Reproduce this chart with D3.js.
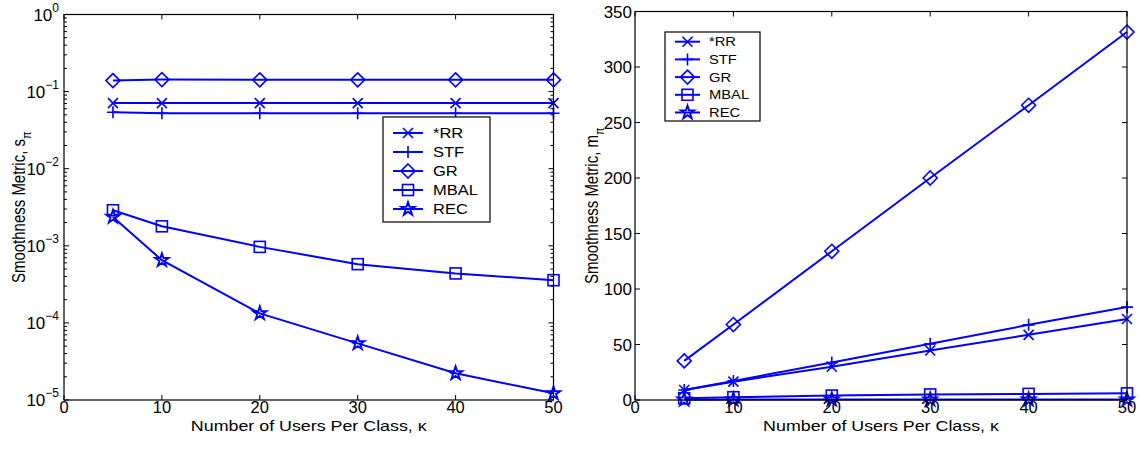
<!DOCTYPE html>
<html><head><meta charset="utf-8">
<script src="https://cdn.jsdelivr.net/npm/d3@7"></script>
<style>body{margin:0;background:#fff}svg{display:block;font-family:"Liberation Sans",Arial,sans-serif}</style>
</head><body><svg id="c" width="1142" height="450"></svg>
<script>
const users = [5, 10, 20, 30, 40, 50];
const seriesNames = ["*RR", "STF", "GR", "MBAL", "REC"];
const markers = ["x", "plus", "diamond", "square", "star"];
// Left panel: s_pi (log scale)
const sRR   = [0.0710, 0.0710, 0.0710, 0.0710, 0.0710, 0.0710];
const sSTF  = [0.0540, 0.0525, 0.0525, 0.0525, 0.0525, 0.0525];
const sGR   = [0.139, 0.143, 0.142, 0.142, 0.142, 0.142];
const sMBAL = [0.00289, 0.00179, 0.000968, 0.000578, 0.000438, 0.000358];
const sREC  = [0.00237, 0.00065, 0.000133, 0.0000542, 0.0000222, 0.0000122];
// Right panel: m_pi (linear)
const mRR   = [9, 16.5, 30, 44.6, 58.7, 73];
const mSTF  = [9, 17.2, 33.7, 50.6, 67.7, 83.7];
const mGR   = [35.2, 68, 134, 200, 265.5, 331.5];
const mMBAL = [1.5, 2.5, 4, 5, 5.5, 6];
const mREC  = [0.3, 0.4, 0.4, 0.4, 0.4, 0.4];
const xTicks = [0, 10, 20, 30, 40, 50];
const logTicks = [-5, -4, -3, -2, -1, 0];
const linTicks = [0, 50, 100, 150, 200, 250, 300, 350];

const svg = d3.select("#c");
const blue = "#0000ff";

function stext(g, x, y, str, fs, sx, anchor) {
  return g.append("text").attr("transform", `translate(${x},${y}) scale(${sx},1)`)
    .attr("text-anchor", anchor || "start").attr("font-size", fs).text(str);
}

function marker(g, type, x, y) {
  const s = g.append("g").attr("transform", `translate(${x},${y})`);
  let el;
  if (type === "x") el = s.append("path").attr("d", "M-5,-5L5,5M-5,5L5,-5");
  else if (type === "plus") el = s.append("path").attr("d", "M-6,0L6,0M0,-6L0,6");
  else if (type === "diamond") el = s.append("path").attr("d", "M0,-7L7,0L0,7L-7,0Z");
  else if (type === "square") el = s.append("rect").attr("x", -5.5).attr("y", -5.5).attr("width", 11).attr("height", 11);
  else if (type === "star") el = s.append("path").attr("d", d3.symbol(d3.symbolStar, 55)());
  el.attr("stroke", blue).attr("stroke-width", type === "star" ? 1.9 : 1.6).attr("fill", "none");
}

function panel(cfg) {
  const {x0, x1, y0, y1, yScale, data, yTicksFn, legend, ylabel, sub} = cfg;
  const x = d3.scaleLinear().domain([0, 50]).range([x0, x1]);
  const g = svg.append("g");
  data.forEach((vals, i) => {
    const line = d3.line().x((d, j) => x(users[j])).y(d => yScale(d));
    g.append("path").attr("d", line(vals)).attr("fill", "none").attr("stroke", blue).attr("stroke-width", 2);
    vals.forEach((v, j) => marker(g, markers[i], x(users[j]), yScale(v)));
  });
  g.append("rect").attr("x", x0).attr("y", y1).attr("width", x1 - x0).attr("height", y0 - y1)
    .attr("fill", "none").attr("stroke", "#000").attr("stroke-width", 1.2);
  xTicks.forEach(t => {
    const px = x(t);
    g.append("line").attr("x1", px).attr("x2", px).attr("y1", y0).attr("y2", y0 - 5).attr("stroke", "#000");
    g.append("line").attr("x1", px).attr("x2", px).attr("y1", y1).attr("y2", y1 + 5).attr("stroke", "#000");
    g.append("text").attr("x", px).attr("y", 413).attr("text-anchor", "middle").attr("font-size", 16.5).text(t);
  });
  yTicksFn(g, x0, x1);
  stext(g, (x0 + x1) / 2, 430.5, "Number of Users Per Class, κ", 14.5, 1.23, "middle");
  const yl = g.append("text").attr("transform", `translate(${ylabel.x},${(y0 + y1) / 2}) rotate(-90) scale(1,1.18)`)
    .attr("text-anchor", "middle").attr("font-size", 15);
  yl.append("tspan").text("Smoothness Metric, " + sub);
  yl.append("tspan").attr("dy", 5).attr("font-size", 11).text("π");
  const L = legend;
  g.append("rect").attr("x", L.x).attr("y", L.y).attr("width", L.w).attr("height", L.h)
    .attr("fill", "#fff").attr("stroke", "#000").attr("stroke-width", 1.2);
  seriesNames.forEach((n, i) => {
    const yy = L.y + L.first + i * L.step;
    g.append("line").attr("x1", L.lx0).attr("x2", L.lx1).attr("y1", yy).attr("y2", yy).attr("stroke", blue).attr("stroke-width", 2);
    marker(g, markers[i], (L.lx0 + L.lx1) / 2, yy);
    stext(g, L.tx, yy + L.fs * 0.36, n, L.fs, 1.18);
  });
}

const yLog = d3.scaleLog().domain([1e-5, 1]).range([400, 14.5]);
panel({
  x0: 64, x1: 553.5, y0: 400, y1: 14.5, yScale: yLog,
  data: [sRR, sSTF, sGR, sMBAL, sREC],
  sub: "s",
  ylabel: {x: 25},
  legend: {x: 383, y: 117, w: 107, h: 105, first: 16, step: 19, lx0: 393, lx1: 423, tx: 433, fs: 14},
  yTicksFn: (g, x0, x1) => {
    logTicks.forEach(e => {
      const py = yLog(Math.pow(10, e));
      g.append("line").attr("x1", x0).attr("x2", x0 + 5).attr("y1", py).attr("y2", py).attr("stroke", "#000");
      g.append("line").attr("x1", x1).attr("x2", x1 - 5).attr("y1", py).attr("y2", py).attr("stroke", "#000");
      const t = g.append("text").attr("x", 59).attr("y", py + 6).attr("text-anchor", "end").attr("font-size", 17);
      t.append("tspan").text("10");
      t.append("tspan").attr("dy", -9).attr("font-size", 12).text(e === 0 ? "0" : "−" + (-e));
      if (e < 0) {
        for (let m = 2; m <= 9; m++) {
          const my = yLog(m * Math.pow(10, e));
          g.append("line").attr("x1", x0).attr("x2", x0 + 3).attr("y1", my).attr("y2", my).attr("stroke", "#000");
          g.append("line").attr("x1", x1).attr("x2", x1 - 3).attr("y1", my).attr("y2", my).attr("stroke", "#000");
        }
      }
    });
  }
});

const yLin = d3.scaleLinear().domain([0, 350]).range([400, 11.5]);
panel({
  x0: 635, x1: 1127, y0: 400, y1: 11.5, yScale: yLin,
  data: [mRR, mSTF, mGR, mMBAL, mREC],
  sub: "m",
  ylabel: {x: 598},
  legend: {x: 665, y: 32, w: 95, h: 89, first: 9.7, step: 17.7, lx0: 675, lx1: 700, tx: 709, fs: 12.5},
  yTicksFn: (g, x0, x1) => {
    linTicks.forEach(t => {
      const py = yLin(t);
      g.append("line").attr("x1", x0).attr("x2", x0 + 5).attr("y1", py).attr("y2", py).attr("stroke", "#000");
      g.append("line").attr("x1", x1).attr("x2", x1 - 5).attr("y1", py).attr("y2", py).attr("stroke", "#000");
      g.append("text").attr("x", 632).attr("y", py + 6).attr("text-anchor", "end").attr("font-size", 17).text(t);
    });
  }
});
</script></body></html>
